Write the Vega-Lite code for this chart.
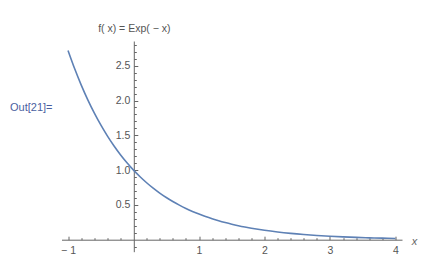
{
  "$schema": "https://vega.github.io/schema/vega-lite/v6.json",
  "width": 340.5,
  "height": 210.7,
  "autosize": {"type": "none"},
  "padding": {"left": 61.5, "top": 41, "right": 32, "bottom": 7.3},
  "background": "white",
  "title": {
    "text": "Out[21]=",
    "anchor": "start",
    "frame": "group",
    "orient": "top",
    "offset": 0,
    "baseline": "middle",
    "dx": -51.5,
    "dy": 95.7,
    "fontSize": 11,
    "fontWeight": "normal",
    "font": "Liberation Sans",
    "color": "#4a5fa0"
  },
  "data": {
    "values": [
      {"x": -1.0, "y": 2.7183}, {"x": -0.9, "y": 2.4596}, {"x": -0.8, "y": 2.2255},
      {"x": -0.7, "y": 2.0138}, {"x": -0.6, "y": 1.8221}, {"x": -0.5, "y": 1.6487},
      {"x": -0.4, "y": 1.4918}, {"x": -0.3, "y": 1.3499}, {"x": -0.2, "y": 1.2214},
      {"x": -0.1, "y": 1.1052}, {"x": 0.0, "y": 1.0}, {"x": 0.1, "y": 0.9048},
      {"x": 0.2, "y": 0.8187}, {"x": 0.3, "y": 0.7408}, {"x": 0.4, "y": 0.6703},
      {"x": 0.5, "y": 0.6065}, {"x": 0.6, "y": 0.5488}, {"x": 0.7, "y": 0.4966},
      {"x": 0.8, "y": 0.4493}, {"x": 0.9, "y": 0.4066}, {"x": 1.0, "y": 0.3679},
      {"x": 1.1, "y": 0.3329}, {"x": 1.2, "y": 0.3012}, {"x": 1.3, "y": 0.2725},
      {"x": 1.4, "y": 0.2466}, {"x": 1.5, "y": 0.2231}, {"x": 1.6, "y": 0.2019},
      {"x": 1.7, "y": 0.1827}, {"x": 1.8, "y": 0.1653}, {"x": 1.9, "y": 0.1496},
      {"x": 2.0, "y": 0.1353}, {"x": 2.2, "y": 0.1108}, {"x": 2.4, "y": 0.0907},
      {"x": 2.6, "y": 0.0743}, {"x": 2.8, "y": 0.0608}, {"x": 3.0, "y": 0.0498},
      {"x": 3.2, "y": 0.0408}, {"x": 3.4, "y": 0.0334}, {"x": 3.6, "y": 0.0273},
      {"x": 3.8, "y": 0.0224}, {"x": 4.0, "y": 0.0183}
    ]
  },
  "mark": {"type": "line", "color": "#5E81B5", "strokeWidth": 1.6, "interpolate": "monotone", "clip": false},
  "encoding": {
    "x": {
      "field": "x",
      "type": "quantitative",
      "scale": {"domain": [-1.1, 4.1], "nice": false, "zero": false},
      "axis": {
        "orient": "bottom",
        "offset": -12,
        "values": [-1, -0.8, -0.6, -0.4, -0.2, 0.2, 0.4, 0.6, 0.8, 1, 1.2, 1.4, 1.6, 1.8, 2, 2.2, 2.4, 2.6, 2.8, 3, 3.2, 3.4, 3.6, 3.8, 4],
        "grid": false,
        "domainColor": "#666666",
        "domainWidth": 1,
        "tickColor": "#666666",
        "tickWidth": 1,
        "tickSize": {"condition": {"test": "abs(datum.value - round(datum.value)) < 0.001", "value": -3.5}, "value": -2},
        "labelPadding": 9,
        "labelExpr": "abs(datum.value - round(datum.value)) < 0.001 ? (datum.value < 0 ? '− ' + format(abs(datum.value), 'd') : format(datum.value, 'd')) : ''",
        "labelFlush": false,
        "labelOverlap": false,
        "labelBound": false,
        "labelFont": "Liberation Sans",
        "labelFontSize": 10.5,
        "labelColor": "#555555",
        "labelBaseline": "top",
        "title": "x",
        "titleFont": "Liberation Sans",
        "titleFontStyle": "italic",
        "titleFontWeight": "normal",
        "titleFontSize": 11,
        "titleColor": "#666666",
        "titleX": 352.5,
        "titleY": 1.3,
        "titleAlign": "center",
        "titleBaseline": "middle",
        "titleAngle": 0
      }
    },
    "y": {
      "field": "y",
      "type": "quantitative",
      "scale": {"domain": [-0.172, 2.855], "nice": false, "zero": false},
      "axis": {
        "orient": "left",
        "offset": -72.3,
        "values": [-0.1, 0.1, 0.2, 0.3, 0.4, 0.5, 0.6, 0.7, 0.8, 0.9, 1.0, 1.1, 1.2, 1.3, 1.4, 1.5, 1.6, 1.7, 1.8, 1.9, 2.0, 2.1, 2.2, 2.3, 2.4, 2.5, 2.6, 2.7, 2.8],
        "grid": false,
        "domainColor": "#666666",
        "domainWidth": 1,
        "tickColor": "#666666",
        "tickWidth": 1,
        "tickSize": {"condition": {"test": "abs(datum.value * 2 - round(datum.value * 2)) < 0.001", "value": -4}, "value": -2.5},
        "labelPadding": 8,
        "labelExpr": "abs(datum.value * 2 - round(datum.value * 2)) < 0.001 && datum.value > 0 ? format(datum.value, '.1f') : ''",
        "labelFlush": false,
        "labelOverlap": false,
        "labelBound": false,
        "labelFont": "Liberation Sans",
        "labelFontSize": 10.5,
        "labelColor": "#555555",
        "labelAlign": "right",
        "labelBaseline": "middle",
        "title": "f( x) = Exp( − x)",
        "titleFont": "Liberation Sans",
        "titleFontWeight": "normal",
        "titleFontSize": 10.5,
        "titleColor": "#555555",
        "titleAngle": 0,
        "titleX": 0,
        "titleY": -12.7,
        "titleAlign": "center",
        "titleBaseline": "middle"
      }
    }
  },
  "config": {
    "view": {"stroke": null}
  }
}
